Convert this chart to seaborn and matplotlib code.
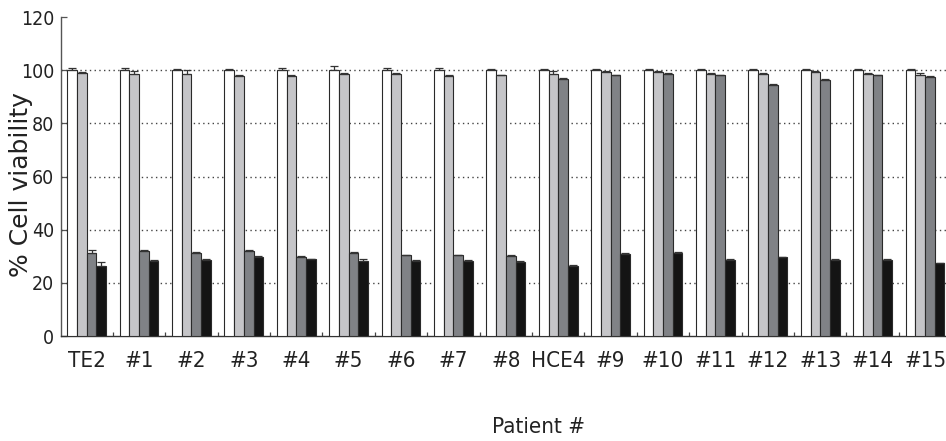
import numpy as np
import pandas as pd
import seaborn as sns
import matplotlib
matplotlib.use("Agg")
import matplotlib.pyplot as plt
from matplotlib import font_manager

# Cell lines / patient samples along the x axis
groups = ["TE2", "#1", "#2", "#3", "#4", "#5", "#6", "#7", "#8",
          "HCE4", "#9", "#10", "#11", "#12", "#13", "#14", "#15"]
treatments = ["Control", "Low", "Mid", "High"]

# Mean % viability per treatment
control = [100, 100, 100, 100, 100, 100, 100, 100, 100,
           100, 100, 100, 100, 100, 100, 100, 100]
low = [99.0, 98.4, 98.4, 97.7, 97.7, 98.5, 98.5, 97.7, 98.0,
       98.5, 99.2, 99.2, 98.5, 98.5, 99.2, 98.5, 98.2]
mid = [31.1, 31.8, 31.3, 31.8, 29.8, 31.1, 30.3, 30.3, 30.0,
       96.7, 98.0, 98.7, 98.0, 94.4, 96.4, 98.0, 97.5]
high = [26.3, 28.3, 28.6, 29.8, 28.8, 28.3, 28.3, 28.3, 28.0,
        26.3, 30.8, 31.3, 28.6, 29.6, 28.6, 28.6, 27.3]

# Standard deviations (upper error bars)
control_sd = [1.0, 1.0, 0.3, 0.3, 0.8, 1.5, 0.8, 0.8, 0.3,
              0.3, 0.3, 0.3, 0.3, 0.3, 0.3, 0.3, 0.3]
low_sd = [0.3, 1.2, 1.5, 0.5, 0.5, 0.5, 0.4, 0.4, 0.3,
          1.2, 0.4, 0.3, 0.3, 0.3, 0.3, 0.3, 0.8]
mid_sd = [1.2, 0.6, 0.4, 0.6, 0.3, 0.4, 0.3, 0.3, 0.3,
          0.3, 0.3, 0.3, 0.3, 0.3, 0.3, 0.3, 0.3]
high_sd = [1.4, 0.3, 0.4, 0.3, 0.3, 0.8, 0.3, 0.3, 0.3,
           0.3, 0.3, 0.3, 0.3, 0.3, 0.3, 0.3, 0.3]

yticks = [0, 20, 40, 60, 80, 100, 120]
grid_levels = [20, 40, 60, 80, 100]

colors = ["#ffffff", "#c4c5c9", "#7f8287", "#141414"]

series = [control, low, mid, high]
sds = [control_sd, low_sd, mid_sd, high_sd]
rows = []
for t, vals, errs in zip(treatments, series, sds):
    for g, v, e in zip(groups, vals, errs):
        rows.append({"group": g, "treatment": t, "viability": v, "sd": e})
df = pd.DataFrame(rows)

sns.set_theme(style="white")
text_color = "#222222"

# a condensed sans face for the tick and axis labels, if one is installed
have_condensed = any(f.name == "DejaVu Sans" and f.stretch in ("condensed", 300, "semi-condensed")
                     for f in font_manager.fontManager.ttflist)
if have_condensed:
    narrow = dict(family="DejaVu Sans", stretch="condensed")
    xt_size, yt_size, xl_size = 16, 14, 16
else:
    narrow = dict(family="Liberation Sans")
    xt_size, yt_size, xl_size = 14, 12, 14

W, H = 946, 441
fig = plt.figure(figsize=(W / 100, H / 100), dpi=100)
ax_left, ax_bottom = 61 / W, (H - 336) / H
ax_w, ax_h = 17 * 52.4 / W, 319 / H
ax = fig.add_axes([ax_left, ax_bottom, ax_w, ax_h])

sns.barplot(data=df, x="group", y="viability", hue="treatment",
            order=groups, hue_order=treatments, palette=colors,
            width=0.74, gap=0, errorbar=None, edgecolor="#2a2a2a",
            linewidth=0.8, legend=False, ax=ax, zorder=3)

# upper error bars placed at each bar's centre
for cont, t in zip(ax.containers, treatments):
    sub = df[df["treatment"] == t].set_index("group").loc[groups]
    xs = [p.get_x() + p.get_width() / 2 for p in cont.patches]
    err = np.vstack([np.zeros(len(sub)), sub["sd"].values])
    ax.errorbar(xs, sub["viability"].values, yerr=err, fmt="none",
                ecolor="#333333", elinewidth=0.9, capsize=2.8,
                capthick=0.9, zorder=4)

# dotted horizontal guides behind the bars
for lv in grid_levels:
    ax.axhline(lv, color="#444444", linestyle=(0, (1.0, 2.4)),
               linewidth=1.0, zorder=1)

ax.set_xlim(-0.49, 16.51)
ax.set_ylim(0, 120)
ax.set_yticks(yticks)
ax.set_yticklabels([str(v) for v in yticks])

for s in ["top", "right"]:
    ax.spines[s].set_visible(False)
ax.spines["left"].set_color("#555555")
ax.spines["left"].set_linewidth(1.0)
ax.spines["bottom"].set_color("#333333")
ax.spines["bottom"].set_linewidth(1.0)

ax.tick_params(axis="y", direction="in", length=4, width=0.9,
               colors="#555555", pad=5, left=True)
ax.tick_params(axis="x", length=0, pad=11, bottom=False)
ax.set_xticks(np.arange(len(groups)) + 0.5, minor=True)
ax.tick_params(axis="x", which="minor", direction="in", length=3,
               width=0.9, color="#444444", bottom=True)

for lab in ax.get_yticklabels():
    lab.set(**narrow)
    lab.set_fontsize(yt_size)
    lab.set_color(text_color)
for lab in ax.get_xticklabels():
    lab.set(**narrow)
    lab.set_fontsize(xt_size)
    lab.set_color(text_color)

ax.set_xlabel("")
ax.set_ylabel("")
fig.text(21 / W, 1 - 185 / H, "% Cell viability", rotation=90,
         ha="center", va="center", fontsize=18, color=text_color,
         family=["DejaVu Sans"])
fig.text(538 / W, 8 / H, "Patient #", ha="center", va="baseline",
         fontsize=xl_size, color=text_color, **narrow)

fig.savefig("out.png", dpi=100, facecolor="white")
